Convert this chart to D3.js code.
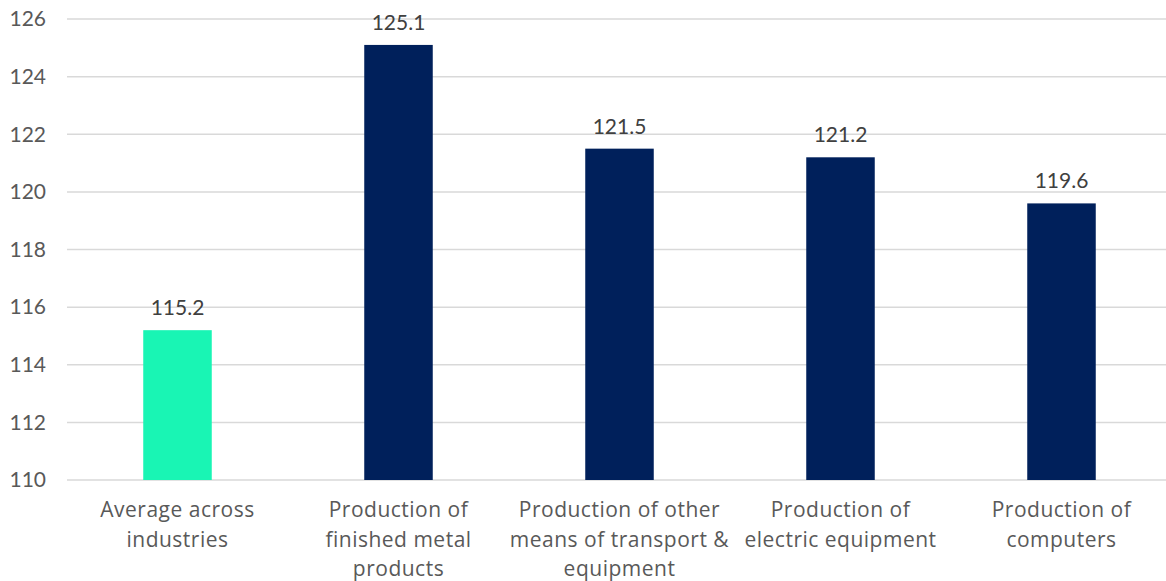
<!DOCTYPE html>
<html>
<head>
<meta charset="utf-8">
<script src="https://cdn.jsdelivr.net/npm/d3@7"></script>
<style>
  body { margin: 0; background: #fff; }
  text { font-family: Lato, "Noto Sans", sans-serif; }
  .cat { font-family: "Open Sans", "Noto Sans", sans-serif; letter-spacing: 0.5px; }
</style>
</head>
<body>
<svg id="chart" width="1166" height="581"></svg>
<script>
// data
var categories = [
  ["Average across", "industries"],
  ["Production of", "finished metal", "products"],
  ["Production of other", "means of transport &", "equipment"],
  ["Production of", "electric equipment"],
  ["Production of", "computers"]
];
var values = [115.2, 125.1, 121.5, 121.2, 119.6];
var colors = ["#19f5b4", "#00205b", "#00205b", "#00205b", "#00205b"];
var yTicks = [110, 112, 114, 116, 118, 120, 122, 124, 126];

var svg = d3.select("#chart");

var x = d3.scaleBand()
  .domain(d3.range(values.length))
  .range([67, 1172])
  .paddingInner(0.69)
  .paddingOuter(0.345);

var y = d3.scaleLinear().domain([110, 126]).range([480, 19]);

// gridlines
svg.append("g").selectAll("line")
  .data(yTicks)
  .join("line")
  .attr("x1", 67).attr("x2", 1166)
  .attr("y1", d => y(d)).attr("y2", d => y(d))
  .attr("stroke", "#d9d9d9")
  .attr("stroke-width", 1.5);

// y tick labels
svg.append("g").selectAll("text")
  .data(yTicks)
  .join("text")
  .attr("x", 46)
  .attr("y", d => y(d))
  .attr("dy", "0.35em")
  .attr("text-anchor", "end")
  .attr("fill", "#595959")
  .style("font-size", "21px")
  .text(d => d);

// bars
svg.append("g").selectAll("rect")
  .data(values)
  .join("rect")
  .attr("x", (d, i) => x(i))
  .attr("width", x.bandwidth())
  .attr("y", d => y(d))
  .attr("height", d => y(110) - y(d))
  .attr("fill", (d, i) => colors[i]);

// value labels
svg.append("g").selectAll("text")
  .data(values)
  .join("text")
  .attr("x", (d, i) => x(i) + x.bandwidth() / 2)
  .attr("y", d => y(d) - 15)
  .attr("text-anchor", "middle")
  .attr("fill", "#404040")
  .style("font-size", "21px")
  .text(d => d.toFixed(1));

// category labels
var cat = svg.append("g").selectAll("text")
  .data(categories)
  .join("text")
  .attr("class", "cat")
  .attr("x", (d, i) => x(i) + x.bandwidth() / 2)
  .attr("y", 517)
  .attr("text-anchor", "middle")
  .attr("fill", "#595959")
  .style("font-size", "21px");

cat.selectAll("tspan")
  .data(d => d)
  .join("tspan")
  .attr("x", function () { return d3.select(this.parentNode).attr("x"); })
  .attr("dy", (d, j) => j === 0 ? 0 : 29.5)
  .text(d => d);
</script>
</body>
</html>
